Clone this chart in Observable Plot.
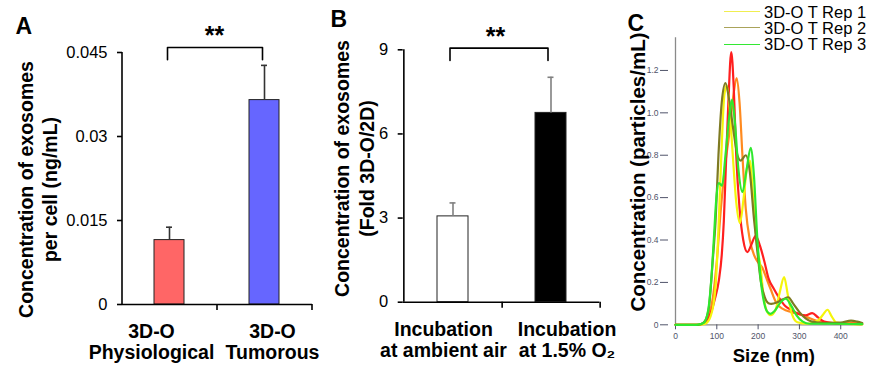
<!DOCTYPE html>
<html>
<head>
<meta charset="utf-8">
<script src="https://cdn.jsdelivr.net/npm/d3@7"></script>
<script src="https://cdn.jsdelivr.net/npm/@observablehq/plot@0.6"></script>
<style>
  html, body { margin: 0; padding: 0; background: #fff; }
  #wrap { position: relative; width: 871px; height: 367px; overflow: hidden;
          font-family: "Liberation Sans", Arial, Helvetica, sans-serif; }
  .panel { position: absolute; top: 0; }
  .panel svg { display: block; overflow: visible; }
  #legend { position: absolute; left: 724px; top: 3.6px; }
  .lrow { position: absolute; left: 0; height: 16.3px; white-space: nowrap;
          font-size: 16.5px; line-height: 16.3px; color: #000; }
  .lsw { position: absolute; left: 0; width: 36px; height: 0; border-top: 1.6px solid; }
  .ltx { position: absolute; left: 40px; top: 0; }
</style>
</head>
<body>
<div id="wrap"></div>
<script>
const H = 367;
const FONT = '"Liberation Sans", Arial, Helvetica, sans-serif';

// ---------- Panel A ----------
const catsA = ["3D-O Physiological", "3D-O Tumorous"];
const labelsA = ["3D-O\nPhysiological", "3D-O\nTumorous"];
const valuesA = [0.0115, 0.0365];
const errorsA = [0.0023, 0.0062];
const colorsA = ["#ff6666", "#6666ff"];
const ticksA = [0, 0.015, 0.03, 0.045];
const bracketA = [0.0437, 0.0459];
const titleA = "Concentration of exosomes\nper cell (ng/mL)";

// ---------- Panel B ----------
const catsB = ["Incubation at ambient air", "Incubation at 1.5% O2"];
const labelsB = ["Incubation\nat ambient air", "Incubation\nat 1.5% O\u2082"];
const valuesB = [3.06, 6.75];
const errorsB = [0.48, 1.27];
const colorsB = ["#ffffff", "#000000"];
const ticksB = [0, 3, 6, 9];
const bracketB = [8.62, 9.06];
const titleB = "Concentration of exosomes\n(Fold 3D-O/2D)";

// ---------- Panel C ----------
const ticksCy = [0, 0.2, 0.4, 0.6, 0.8, 1.0, 1.2];
const ticksCx = [0, 100, 200, 300, 400];
const namesC = ["Orange", "Red", "3D-O T Rep 1", "3D-O T Rep 2", "3D-O T Rep 3"];
const colorsC = ["#ff8a1f", "#ff1f1f", "#f5f50a", "#7e7a22", "#2ee82e"];
const legendColorsC = ["#ff8a1f", "#ff1f1f", "#f0ee50", "#aaa35a", "#33e833"];

const orangeX = [0, 50, 65, 80, 92, 100, 110, 120, 130, 140, 148, 155, 162, 170, 180, 190, 198, 210, 220, 230, 245, 260, 280, 300, 320, 340, 360, 400, 430, 452];
const orangeY = [0, 0, 0.005, 0.04, 0.15, 0.3, 0.55, 0.75, 0.9, 1.08, 1.164, 1.05, 0.8, 0.55, 0.4, 0.33, 0.3, 0.27, 0.22, 0.17, 0.1, 0.075, 0.06, 0.05, 0.035, 0.02, 0.01, 0.008, 0.01, 0.005];

const redX = [0, 55, 65, 80, 95, 105, 112, 117, 122, 128, 135, 141, 147, 155, 164, 174, 184, 194, 205, 215, 225, 238, 250, 265, 280, 300, 315, 331, 345, 360, 380, 420, 452];
const redY = [0, 0, 0.005, 0.03, 0.12, 0.21, 0.33, 0.49, 0.75, 1.05, 1.286, 1.12, 0.8, 0.55, 0.4, 0.343, 0.38, 0.42, 0.37, 0.3, 0.22, 0.17, 0.13, 0.09, 0.07, 0.05, 0.045, 0.055, 0.035, 0.015, 0.008, 0.005, 0.003];

const yellowX = [0, 60, 72, 85, 97, 105, 112, 118, 124, 130, 138, 147, 156, 165, 173, 180, 188, 197, 206, 213, 220, 230, 242, 252, 263, 272, 282, 295, 320, 345, 358, 368, 378, 390, 420, 452];
const yellowY = [0, 0, 0.005, 0.04, 0.18, 0.5, 0.85, 1.08, 1.13, 1.05, 0.82, 0.58, 0.48, 0.6, 0.74, 0.775, 0.6, 0.38, 0.27, 0.14, 0.07, 0.045, 0.07, 0.15, 0.225, 0.14, 0.05, 0.012, 0.005, 0.02, 0.05, 0.071, 0.04, 0.01, 0.004, 0.002];

const oliveX = [0, 55, 68, 80, 90, 97, 104, 112, 121, 130, 140, 150, 158, 170, 180, 190, 198, 207, 216, 225, 232, 245, 260, 273, 285, 300, 315, 330, 360, 400, 425, 440, 452];
const oliveY = [0, 0, 0.01, 0.07, 0.3, 0.49, 0.8, 1.05, 1.14, 1.06, 0.92, 0.8, 0.775, 0.8, 0.72, 0.5, 0.35, 0.2, 0.13, 0.102, 0.099, 0.105, 0.12, 0.13, 0.1, 0.06, 0.03, 0.015, 0.008, 0.01, 0.02, 0.015, 0.008];

const greenX = [0, 50, 60, 69, 80, 88, 93, 99, 105, 113, 121, 130, 137, 144, 152, 162, 172, 182, 190, 198, 207, 215, 222, 230, 240, 252, 267, 280, 293, 308, 325, 380, 452];
const greenY = [0, 0, 0.003, 0.01, 0.08, 0.25, 0.41, 0.6, 0.668, 0.657, 0.8, 0.98, 1.062, 0.95, 0.74, 0.626, 0.73, 0.835, 0.7, 0.41, 0.2, 0.1, 0.062, 0.052, 0.065, 0.1, 0.123, 0.09, 0.045, 0.015, 0.005, 0.005, 0.003];

const seriesXC = [orangeX, redX, yellowX, oliveX, greenX];
const seriesYC = [orangeY, redY, yellowY, oliveY, greenY];

// ---------- helpers ----------
function barPanel(o) {
  const data = o.cats.map((c, i) => ({
    cat: c, value: o.values[i], top: o.values[i] + o.errors[i],
    fill: o.colors[i], label: o.labels[i]
  }));
  const step = (o.width - o.ml - o.mr) / o.cats.length;
  const bracket = [
    {cat: o.cats[0], y: o.bracket[0]}, {cat: o.cats[0], y: o.bracket[1]},
    {cat: o.cats[1], y: o.bracket[1]}, {cat: o.cats[1], y: o.bracket[0]}
  ];
  return Plot.plot({
    width: o.width, height: H,
    marginLeft: o.ml, marginRight: o.mr, marginTop: o.mt, marginBottom: o.mb,
    style: {fontFamily: FONT, background: "transparent", color: "#000", overflow: "visible"},
    x: {domain: o.cats, paddingInner: 0.684, paddingOuter: 0.342, axis: null},
    y: {domain: o.ydomain},
    color: {type: "identity"},
    marks: [
      Plot.barY(data, {x: "cat", y: "value", fill: "fill", stroke: "#222", strokeWidth: 1}),
      Plot.ruleX(data, {x: "cat", y1: "value", y2: "top", stroke: o.errColor, strokeWidth: 1.6}),
      Plot.tickY(data, {x: "cat", y: "top", stroke: o.errColor, strokeWidth: 1.6, insetLeft: o.capInset, insetRight: o.capInset}),
      Plot.ruleY([0], {stroke: "#000", strokeWidth: 1.6}),
      Plot.ruleX([o.cats[0]], {x: d => d, dx: -step / 2, stroke: "#000", strokeWidth: 1.6}),
      Plot.ruleX(o.cats, {x: d => d, y1: () => 0, y2: () => 0, dx: step / 2, insetBottom: -6, stroke: "#000", strokeWidth: 1.6}),
      Plot.axisY({ticks: o.ticks, tickFormat: d => String(d), tickSize: 5, tickPadding: 10,
                  fontSize: 16.5, label: null, strokeWidth: 1.6}),
      Plot.line(bracket, {x: "cat", y: "y", stroke: "#000", strokeWidth: 1.6, dx: o.bracketDx}),
      Plot.text(["**"], {text: d => d, frameAnchor: "top", dx: o.starDx, dy: o.starDy,
                         fontSize: 25, fontWeight: "bold", lineAnchor: "bottom"}),
      ...data.map((d, i) => Plot.text([d], {x: "cat", text: "label", frameAnchor: "bottom",
                         dx: o.labelDx[i], dy: o.labelDy, lineAnchor: "bottom",
                         fontSize: 19.5, fontWeight: "bold", lineHeight: 1.07})),
      Plot.text([o.title], {text: d => d, frameAnchor: "left", rotate: -90, textAnchor: "middle",
                         dx: o.titleDx, dy: o.titleDy, fontSize: 19.5, fontWeight: "bold",
                         lineAnchor: "middle", lineHeight: 1.26}),
      Plot.text([o.letter], {text: d => d, frameAnchor: "top-left", dx: o.letterDx, dy: o.letterDy,
                         fontSize: 23, fontWeight: "bold", textAnchor: "start", lineAnchor: "bottom"})
    ]
  });
}

const wrap = document.getElementById("wrap");
function place(node, left) {
  const d = document.createElement("div");
  d.className = "panel";
  d.style.left = left + "px";
  d.appendChild(node);
  wrap.appendChild(d);
}

// Panel A
place(barPanel({
  cats: catsA, values: valuesA, errors: errorsA, colors: colorsA, labels: labelsA,
  ticks: ticksA, ydomain: [0, 0.045], bracket: bracketA, title: titleA, letter: "A",
  width: 330, ml: 122, mr: 18, mt: 52, mb: 63,
  errColor: "#333", capInset: 12, bracketDx: -2,
  starDx: -3, starDy: -9, labelDx: [-18, 8], labelDy: 54,
  titleDx: -85.5, titleDy: 11, letterDx: -107, letterDy: -19
}), 0);

// Panel B
place(barPanel({
  cats: catsB, values: valuesB, errors: errorsB, colors: colorsB, labels: labelsB,
  ticks: ticksB, ydomain: [0, 9], bracket: bracketB, title: titleB, letter: "B",
  width: 290, ml: 72.7, mr: 20.7, mt: 49.3, mb: 65.3,
  errColor: "#808080", capInset: 12.5, bracketDx: -3,
  starDx: -6, starDy: -5.3, labelDx: [-9.5, 16], labelDy: 54.3,
  titleDx: -49.7, titleDy: -7.5, letterDx: -72.7, letterDy: -23.3
}), 330);

// Panel C
const plotC = Plot.plot({
  width: 251, height: H,
  marginLeft: 55, marginRight: 9.3, marginTop: 37.3, marginBottom: 42.7,
  style: {fontFamily: FONT, background: "transparent", color: "#000", overflow: "visible"},
  x: {domain: [0, 452], axis: null},
  y: {domain: [0, 1.354], axis: null},
  marks: [
    Plot.ruleX([0], {stroke: "#8a8a8a", strokeWidth: 1.3}),
    Plot.ruleY([0], {stroke: "#8a8a8a", strokeWidth: 1.3}),
    Plot.axisY({ticks: ticksCy, tickFormat: d => d === 0 ? "0" : d.toFixed(1), tickSize: 8, tickPadding: 2,
                dx: -7, fontSize: 8.5, color: "#50546a", label: null}),
    Plot.axisX({ticks: ticksCx, tickFormat: d => String(d), tickSize: 5, tickPadding: 3,
                fontSize: 8.5, color: "#50546a", label: null}),
    ...seriesXC.map((xs, i) => Plot.line(xs, {x: xs, y: seriesYC[i], stroke: colorsC[i],
                strokeWidth: 2.2, curve: "monotone-x"})),
    Plot.text(["Size (nm)"], {text: d => d, frameAnchor: "bottom", dx: 5, dy: 37,
                fontSize: 18.5, fontWeight: "bold", lineAnchor: "bottom"}),
    Plot.text(["Concentration (particles/mL)"], {text: d => d, frameAnchor: "left", rotate: -90,
                textAnchor: "middle", dx: -37.5, dy: -9.3, fontSize: 20.5, fontWeight: "bold",
                lineAnchor: "middle"}),
    Plot.text(["C"], {text: d => d, frameAnchor: "top-left", dx: -48, dy: -7.3,
                fontSize: 23, fontWeight: "bold", textAnchor: "start", lineAnchor: "bottom"})
  ]
});
place(plotC, 620);

// Legend (Rep 1..3)
const legend = document.createElement("div");
legend.id = "legend";
[2, 3, 4].forEach((si, r) => {
  const row = document.createElement("div");
  row.className = "lrow";
  row.style.top = (r * 16.3) + "px";
  const sw = document.createElement("span");
  sw.className = "lsw";
  sw.style.top = "7.4px";
  sw.style.borderTopColor = legendColorsC[si];
  const tx = document.createElement("span");
  tx.className = "ltx";
  tx.textContent = namesC[si];
  row.appendChild(sw);
  row.appendChild(tx);
  legend.appendChild(row);
});
wrap.appendChild(legend);
</script>
</body>
</html>
